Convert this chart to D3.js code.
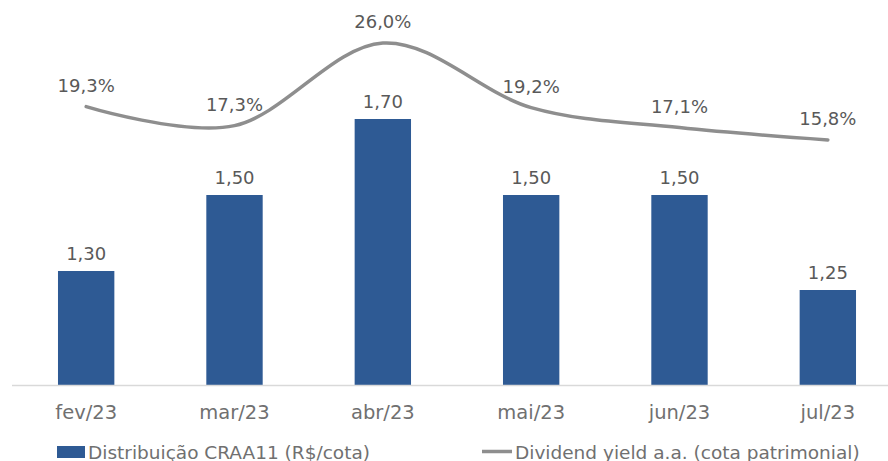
<!DOCTYPE html>
<html>
<head>
<meta charset="utf-8">
<script src="https://cdn.jsdelivr.net/npm/d3@7"></script>
<style>
  body { margin: 0; background: #fff; }
  text { font-family: "DejaVu Sans", sans-serif; }
</style>
</head>
<body>
<svg id="chart" width="888" height="461"></svg>
<script>
const months = ['fev/23', 'mar/23', 'abr/23', 'mai/23', 'jun/23', 'jul/23'];
const distribution = [1.30, 1.50, 1.70, 1.50, 1.50, 1.25];
const dividendYield = [19.3, 17.3, 26.0, 19.2, 17.1, 15.8];

const barDomain = [1, 2];
const yieldDomain = [-10, 30];

const legendLabels = ['Distribuição CRAA11 (R$/cota)', 'Dividend yield a.a. (cota patrimonial)'];

const blue = '#2e5a94';
const gray = '#8e8e8e';
const textColor = '#595959';

const svg = d3.select('#chart');
const plotLeft = 12, plotRight = 902, plotTop = 5, plotBottom = 385;

const x = d3.scaleBand()
  .domain(months)
  .range([plotLeft, plotRight])
  .paddingInner(0.62)
  .paddingOuter(0.31);

const y = d3.scaleLinear().domain(barDomain).range([plotBottom, plotTop]);
const y2 = d3.scaleLinear().domain(yieldDomain).range([plotBottom, plotTop]);

const fmt = (v, d) => v.toFixed(d).replace('.', ',');
const cx = m => x(m) + x.bandwidth() / 2;

// bars
svg.append('g')
  .selectAll('rect')
  .data(distribution)
  .enter()
  .append('rect')
  .attr('x', (d, i) => x(months[i]))
  .attr('y', d => y(d))
  .attr('width', x.bandwidth())
  .attr('height', d => plotBottom - y(d))
  .style('fill', blue);

// axis
const axis = svg.append('g')
  .attr('transform', `translate(0, ${plotBottom})`)
  .call(d3.axisBottom(x).tickSize(0).tickPadding(20));
axis.select('.domain').attr('d', `M12,0.5H888`).style('stroke', '#d9d9d9').style('stroke-width', 1.5);
axis.selectAll('text')
  .style('font-size', '19.5px')
  .style('fill', '#707070')
  .style('font-family', '"DejaVu Sans", sans-serif');

// bar labels
svg.append('g')
  .selectAll('text')
  .data(distribution)
  .enter()
  .append('text')
  .attr('x', (d, i) => cx(months[i]))
  .attr('y', d => y(d) - 11)
  .attr('text-anchor', 'middle')
  .style('font-size', '18px')
  .style('fill', textColor)
  .text(d => fmt(d, 2));

// yield line
const line = d3.line()
  .x((d, i) => cx(months[i]))
  .y(d => y2(d))
  .curve(d3.curveCardinal.tension(0));

svg.append('path')
  .datum(dividendYield)
  .attr('d', line)
  .style('fill', 'none')
  .style('stroke', gray)
  .style('stroke-width', 3.5)
  .style('stroke-linecap', 'round');

svg.append('g')
  .selectAll('text')
  .data(dividendYield)
  .enter()
  .append('text')
  .attr('x', (d, i) => cx(months[i]))
  .attr('y', d => y2(d) - 15)
  .attr('text-anchor', 'middle')
  .style('font-size', '18px')
  .style('fill', textColor)
  .text(d => fmt(d, 1) + '%');

// legend
const legend = svg.append('g');
legend.append('rect')
  .attr('x', 57).attr('y', 446).attr('width', 28).attr('height', 12)
  .style('fill', blue);
legend.append('text')
  .attr('x', 88).attr('y', 458.5)
  .style('font-size', '18.5px')
  .style('fill', '#707070')
  .text(legendLabels[0]);
legend.append('line')
  .attr('x1', 482).attr('x2', 512).attr('y1', 451.5).attr('y2', 451.5)
  .style('stroke', gray)
  .style('stroke-width', 3.5);
legend.append('text')
  .attr('x', 515).attr('y', 458.5)
  .style('font-size', '18.5px')
  .style('fill', '#707070')
  .text(legendLabels[1]);
</script>
</body>
</html>
